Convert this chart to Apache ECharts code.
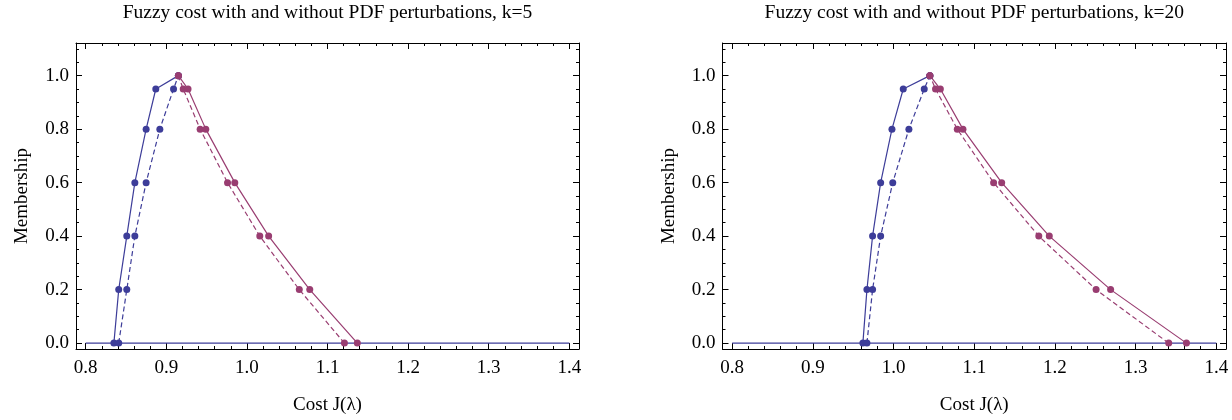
<!DOCTYPE html>
<html>
<head>
<meta charset="utf-8">
<script src="https://cdn.jsdelivr.net/npm/echarts@6/dist/echarts.min.js"></script>
<style>
  html, body { margin: 0; padding: 0; background: #fff; }
  #main { width: 1232px; height: 420px; }
</style>
</head>
<body>
<div id="main"></div>
<script>
// membership levels (alpha cuts) shared by every curve
const levels = [0, 0.2, 0.4, 0.6, 0.8, 0.95, 1.0];

// k=5 : cost J at each level
const k5BlueSolid = [0.835, 0.841, 0.851, 0.861, 0.875, 0.887, 0.915];
const k5BlueDashed = [0.841, 0.851, 0.861, 0.875, 0.892, 0.909, 0.915];
const k5PlumDashed = [1.121, 1.065, 1.016, 0.976, 0.942, 0.921, 0.915];
const k5PlumSolid = [1.137, 1.078, 1.027, 0.985, 0.949, 0.927, 0.915];

// k=20
const k20BlueSolid = [0.962, 0.967, 0.974, 0.984, 0.998, 1.012, 1.045];
const k20BlueDashed = [0.967, 0.974, 0.984, 0.999, 1.019, 1.038, 1.045];
const k20PlumDashed = [1.341, 1.251, 1.180, 1.124, 1.079, 1.052, 1.045];
const k20PlumSolid = [1.363, 1.269, 1.193, 1.134, 1.086, 1.058, 1.045];

// zero membership outside the support
const baseline = [0.8, 1.4];

const xTicks = [0.8, 0.9, 1.0, 1.1, 1.2, 1.3, 1.4];
const yTicks = [0, 0.2, 0.4, 0.6, 0.8, 1.0];
const titles = [
  'Fuzzy cost with and without PDF perturbations, k=5',
  'Fuzzy cost with and without PDF perturbations, k=20'
];

const FONT = 'Liberation Serif';
const BLUE = '#3D3D99';
const PLUM = '#993D71';
const X0 = 0.788, X1 = 1.412, Y0 = -0.022, Y1 = 1.122;

const xMinor = [];
for (let i = 0; i <= 30; i++) xMinor.push(+(0.8 + i * 0.02).toFixed(2));
const yMinor = [];
for (let i = 0; i <= 22; i++) yMinor.push(+(i * 0.05).toFixed(2));

const txt = { fontFamily: FONT, fontSize: 19, color: '#000' };
const tickLine = { color: '#000', width: 1 };

const grids = [
  { left: 76, top: 43, width: 503, height: 309.5 },
  { left: 722.5, top: 43, width: 503.5, height: 309.5 }
];

function xAxes(g) {
  const base = {
    gridIndex: g, type: 'value', min: X0, max: X1,
    splitLine: { show: false },
    axisLine: { onZero: false, lineStyle: { color: '#000', width: 1 } }
  };
  const hidden = { show: false, onZero: false };
  return [
    {
      ...base, position: 'bottom',
      axisTick: { inside: true, length: 6, customValues: xTicks, lineStyle: tickLine },
      axisLabel: { customValues: xTicks, formatter: v => v.toFixed(1), margin: 10, ...txt },
      name: 'Cost J(λ)', nameLocation: 'middle', nameGap: 47, nameTextStyle: txt
    },
    {
      ...base, position: 'bottom', axisLine: hidden,
      axisTick: { inside: true, length: 3, customValues: xMinor, lineStyle: tickLine },
      axisLabel: { show: false }
    },
    {
      ...base, position: 'top',
      axisTick: { inside: true, length: 6, customValues: xTicks, lineStyle: tickLine },
      axisLabel: { show: false }
    },
    {
      ...base, position: 'top', axisLine: hidden,
      axisTick: { inside: true, length: 3, customValues: xMinor, lineStyle: tickLine },
      axisLabel: { show: false }
    }
  ];
}

function yAxes(g) {
  const base = {
    gridIndex: g, type: 'value', min: Y0, max: Y1,
    splitLine: { show: false },
    axisLine: { onZero: false, lineStyle: { color: '#000', width: 1 } }
  };
  const hidden = { show: false, onZero: false };
  return [
    {
      ...base, position: 'left',
      axisTick: { inside: true, length: 6, customValues: yTicks, lineStyle: tickLine },
      axisLabel: { customValues: yTicks, formatter: v => v.toFixed(1), margin: 7, ...txt },
      name: 'Membership', nameLocation: 'middle', nameGap: 44, nameTextStyle: txt
    },
    {
      ...base, position: 'left', axisLine: hidden,
      axisTick: { inside: true, length: 3, customValues: yMinor, lineStyle: tickLine },
      axisLabel: { show: false }
    },
    {
      ...base, position: 'right',
      axisTick: { inside: true, length: 6, customValues: yTicks, lineStyle: tickLine },
      axisLabel: { show: false }
    },
    {
      ...base, position: 'right', axisLine: hidden,
      axisTick: { inside: true, length: 3, customValues: yMinor, lineStyle: tickLine },
      axisLabel: { show: false }
    }
  ];
}

function curve(g, xs, color, dashed) {
  return {
    type: 'line', xAxisIndex: g * 4, yAxisIndex: g * 4,
    data: xs.map((x, i) => [x, levels[i]]),
    symbol: 'circle', symbolSize: 7, showAllSymbol: true, clip: false,
    itemStyle: { color: color },
    lineStyle: { color: color, width: 1.2, type: dashed ? [5, 3] : 'solid' }
  };
}

function zeroLine(g) {
  return {
    type: 'line', xAxisIndex: g * 4, yAxisIndex: g * 4,
    data: baseline.map(x => [x, 0]),
    symbol: 'none', clip: false,
    lineStyle: { color: BLUE, width: 1.2 }
  };
}

const chart = echarts.init(document.getElementById('main'), null, { renderer: 'canvas' });

const option = {
  animation: false,
  backgroundColor: '#fff',
  title: titles.map((t, g) => ({
    text: t,
    left: grids[g].left + grids[g].width / 2,
    top: 3,
    padding: 0,
    textAlign: 'center',
    textStyle: { ...txt, fontSize: 19.5, fontWeight: 'normal' }
  })),
  grid: grids,
  xAxis: [...xAxes(0), ...xAxes(1)],
  yAxis: [...yAxes(0), ...yAxes(1)],
  series: [
    zeroLine(0),
    curve(0, k5BlueSolid, BLUE, false),
    curve(0, k5BlueDashed, BLUE, true),
    curve(0, k5PlumDashed, PLUM, true),
    curve(0, k5PlumSolid, PLUM, false),
    zeroLine(1),
    curve(1, k20BlueSolid, BLUE, false),
    curve(1, k20BlueDashed, BLUE, true),
    curve(1, k20PlumDashed, PLUM, true),
    curve(1, k20PlumSolid, PLUM, false)
  ]
};

chart.setOption(option);
</script>
</body>
</html>
